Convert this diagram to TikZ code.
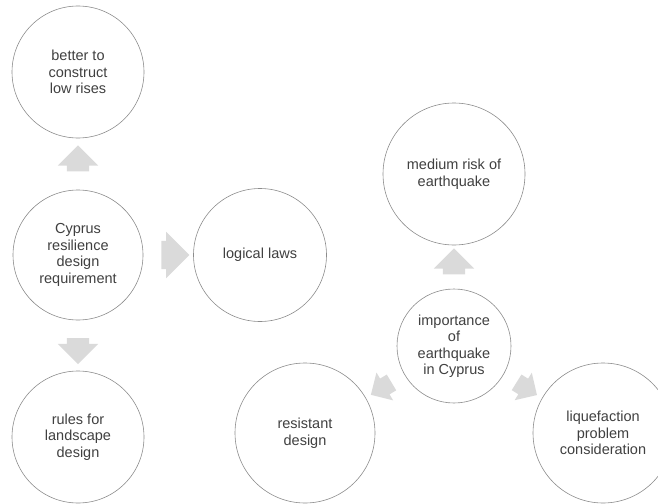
\documentclass[tikz,border=0pt]{standalone}
\usepackage{fontspec}
\setmainfont{Liberation Sans}
\definecolor{ringgray}{RGB}{140,140,140}
\definecolor{textgray}{RGB}{64,64,64}
\definecolor{arrowgray}{RGB}{218,218,218}
\usetikzlibrary{shapes.arrows,calc}

\tikzset{
  idea/.style={circle, draw=ringgray, line width=0.6pt, fill=white,
    align=center, inner sep=0pt, text=textgray,
    font=\fontsize{14.5}{16.5}\selectfont},
  fatarrow/.style={single arrow, fill=arrowgray, draw=none,
    inner xsep=0pt, inner ysep=11pt, minimum height=26pt,
    single arrow head extend=9pt, single arrow head indent=0pt}
}

\begin{document}
\begin{tikzpicture}[x=1pt,y=-1pt]
  \useasboundingbox (0,0) rectangle (658,503);

  % left column
  \node[idea, minimum size=132pt] (better) at (78,72) {better to\\construct\\low rises};
  \node[idea, minimum size=130pt] (cyprus) at (78,255) {Cyprus\\resilience\\design\\requirement};
  \node[idea, minimum size=132pt] (landscape) at (78,437) {rules for\\landscape\\design};
  \node[idea, minimum size=133pt] (logical) at (260,255) {logical laws};

  % right group
  \node[idea, minimum size=142pt] (medium) at (454,174) {medium risk of\\earthquake};
  \node[idea, minimum size=114pt] (importance) at (454,346) {importance\\of\\earthquake\\in Cyprus};
  \node[idea, minimum size=140pt] (resistant) at (305,433) {resistant\\design};
  \node[idea, minimum size=140pt] (liquefaction) at (603,433) {liquefaction\\problem\\consideration};

  % block arrows
  \node[fatarrow, rotate=90] (upleft) at ($(cyprus.north)!0.5!(better.south)$) {};
  \node[fatarrow, inner ysep=14pt, minimum height=28pt] (toright) at ($(cyprus.east)!0.5!(logical.west)$) {};
  \node[fatarrow, rotate=-90] (downleft) at ($(cyprus.south)!0.5!(landscape.north)$) {};
  \node[fatarrow, rotate=90] (upright) at ($(importance.north)!0.5!(medium.south)$) {};
  \node[fatarrow, rotate=211, minimum height=24pt, inner ysep=9pt,
        single arrow head extend=7pt] (toresist) at ($(importance.210)!0.5!(resistant.30)$) {};
  \node[fatarrow, rotate=-32, minimum height=24pt, inner ysep=9pt,
        single arrow head extend=7pt] (toliq) at ($(importance.-30)!0.5!(liquefaction.150)$) {};
\end{tikzpicture}
\end{document}
